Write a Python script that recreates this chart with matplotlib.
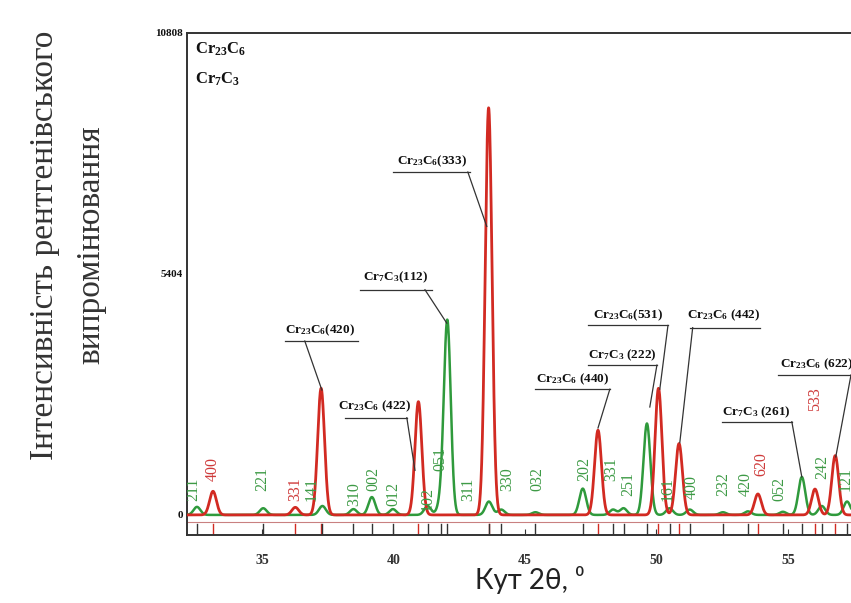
import numpy as np
import matplotlib
matplotlib.use("Agg")
import matplotlib.pyplot as plt

plt.rcParams.update({
    "mathtext.fontset": "custom",
    "mathtext.rm": "Liberation Serif:bold",
    "mathtext.it": "Liberation Serif:bold",
    "mathtext.bf": "Liberation Serif:bold",
    "mathtext.default": "rm",
})

# ---------------- data ----------------
red_hkl = ["400", "331", "420", "422", "333", "440", "531", "442", "620", "533", "622"]
red_pos = [33.14, 36.27, 37.25, 40.95, 43.62, 47.78, 50.08, 50.86, 53.86, 56.03, 56.80]
red_int = [530, 170, 2840, 2540, 9130, 1900, 2840, 1600, 470, 580, 1330]

green_hkl = ["211", "221", "141", "310", "002", "012", "102", "051", "112", "311", "330",
             "032", "202", "331", "251", "222", "161", "400", "232", "420", "052", "261",
             "242", "121"]
green_pos = [32.53, 35.05, 37.30, 38.48, 39.18, 39.98, 41.30, 41.80, 42.05, 43.63, 44.10,
             45.40, 47.20, 48.35, 48.75, 49.64, 50.50, 51.27, 52.53, 53.48, 54.81, 55.53,
             56.29, 57.25]
green_int = [180, 150, 200, 130, 400, 130, 200, 250, 4340, 300, 120,
             60, 590, 120, 150, 2050, 150, 120, 60, 80, 70, 850,
             200, 300]

y_ticks = [0, 5404, 10808]
x_ticks = [35, 40, 45, 50, 55]
phase_labels = ["Cr$_{23}$C$_6$", "Cr$_7$C$_3$"]

red_named = {"420": "Cr$_{23}$C$_6$(420)", "422": "Cr$_{23}$C$_6$ (422)",
             "333": "Cr$_{23}$C$_6$(333)", "440": "Cr$_{23}$C$_6$ (440)",
             "531": "Cr$_{23}$C$_6$(531)", "442": "Cr$_{23}$C$_6$ (442)",
             "622": "Cr$_{23}$C$_6$ (622)"}
green_named = {"112": "Cr$_7$C$_3$(112)", "222": "Cr$_7$C$_3$ (222)",
               "261": "Cr$_7$C$_3$ (261)"}

# ---------------- layout (positions only) ----------------
red_lab_xy = {"400": (33.14, 1030), "331": (36.25, 582), "620": (54.01, 1141),
              "533": (56.03, 2596)}
green_lab_xy = {"211": (32.38, 582), "221": (35.0, 806), "141": (36.90, 582),
                "310": (38.50, 470), "002": (39.22, 806), "012": (39.98, 470),
                "102": (41.31, 358), "051": (41.77, 1253), "311": (42.83, 582),
                "330": (44.32, 806), "032": (45.46, 806), "202": (47.24, 1030),
                "331": (48.27, 1030), "251": (48.92, 694), "161": (50.44, 582),
                "400": (51.35, 627), "232": (52.53, 694), "420": (53.40, 694),
                "052": (54.66, 582), "242": (56.29, 1074), "121": (57.20, 806)}
ann_layout = {
    ("r", "420"): (37.21, 4140, 35.87, 38.65, 3900, 36.63, 37.28, 2800),
    ("g", "112"): (40.10, 5320, 38.73, 41.46, 5050, 41.20, 42.03, 4300),
    ("r", "422"): (39.30, 2430, 38.16, 40.51, 2180, 40.51, 40.82, 1000),
    ("r", "333"): (41.46, 7920, 39.98, 42.91, 7690, 42.83, 43.55, 6470),
    ("r", "440"): (46.80, 3050, 45.38, 48.23, 2820, 48.23, 47.78, 1950),
    ("g", "222"): (48.70, 3580, 47.40, 50.02, 3360, 50.02, 49.75, 2420),
    ("r", "531"): (48.90, 4470, 47.40, 50.44, 4250, 50.44, 50.13, 2820),
    ("r", "442"): (52.55, 4470, 51.27, 53.94, 4200, 51.38, 50.89, 1620),
    ("g", "261"): (53.80, 2310, 52.49, 55.15, 2090, 55.15, 55.53, 850),
    ("r", "622"): (56.10, 3380, 54.62, 57.45, 3140, 57.40, 56.82, 1300),
}

RED = "#d22a22"
GREEN = "#2f9a3c"
RED_TXT = "#cf3b3b"
GREEN_TXT = "#3d9a45"
DARK = "#333333"
serif = "Liberation Serif"

x = np.linspace(32.0, 57.6, 4000)
sigma = 0.13


def profile(pos, inten):
    y = np.zeros_like(x)
    for p, h in zip(pos, inten):
        y += h * np.exp(-0.5 * ((x - p) / sigma) ** 2)
    return y


fig = plt.figure(figsize=(8.51, 6.03), dpi=100)
ax = fig.add_axes([0.2197, 0.1128, 0.7803, 0.8325])

ax.plot(x, profile(green_pos, green_int), color=GREEN, lw=1.8, zorder=3)
ax.plot(x, profile(red_pos, red_int), color=RED, lw=2.0, zorder=4)

# Bragg position markers strip
ax.axhline(-150, color="#c98080", lw=0.8, zorder=2)
for p in red_pos:
    ax.plot([p, p], [-200, -420], color=RED, lw=1.0, zorder=2)
for p in green_pos:
    ax.plot([p, p], [-200, -420], color=DARK, lw=1.0, zorder=2)

ax.set_xlim(32.15, 57.40)
ax.set_ylim(-450, 10808)

for hkl, (lx, ly) in red_lab_xy.items():
    ax.text(lx, ly, hkl, rotation=90, ha="center", va="center", color=RED_TXT,
            fontsize=11.5, family=serif, zorder=5)
for hkl, (lx, ly) in green_lab_xy.items():
    ax.text(lx, ly, hkl, rotation=90, ha="center", va="center", color=GREEN_TXT,
            fontsize=11.5, family=serif, zorder=5, clip_on=True)

for (ph, hkl), (tx, ty, ux0, ux1, uy, lx0, lx1, ly1) in ann_layout.items():
    label = red_named[hkl] if ph == "r" else green_named[hkl]
    ax.text(tx, ty, label, ha="center", va="center", fontsize=9.5, color="#111111",
            family=serif, fontweight="bold", zorder=6, clip_on=True)
    ax.plot([ux0, ux1], [uy, uy], color=DARK, lw=0.9, zorder=6, clip_on=True)
    ax.plot([lx0, lx1], [uy, ly1], color=DARK, lw=0.9, zorder=6, clip_on=True)

ax.text(0.012, 0.985, phase_labels[0], transform=ax.transAxes, ha="left", va="top",
        fontsize=12, color="#111111", family=serif, fontweight="bold")
ax.text(0.012, 0.925, phase_labels[1], transform=ax.transAxes, ha="left", va="top",
        fontsize=12, color="#111111", family=serif, fontweight="bold")

ax.set_xticks(x_ticks)
ax.set_yticks(y_ticks)
ax.set_xticklabels([str(t) for t in x_ticks], family=serif, fontweight="bold", fontsize=10)
ax.set_yticklabels([str(t) for t in y_ticks], family=serif, fontweight="bold", fontsize=8)
ax.tick_params(axis="x", direction="in", length=4, width=0.8, pad=14, colors=DARK)
ax.tick_params(axis="y", direction="in", length=0, pad=3, colors="#111111")
for s in ["left", "top", "bottom"]:
    ax.spines[s].set_color(DARK)
    ax.spines[s].set_linewidth(1.4)
ax.spines["right"].set_visible(False)

fig.text(0.080, 0.594, "Інтенсивність рентгенівського\nвипромінювання", rotation=90,
         ha="center", va="center", multialignment="center", fontsize=24,
         family=serif, color="#333333", linespacing=1.7)
fig.text(0.622, 0.038, "Кут 2θ, ⁰", ha="center", va="center", fontsize=20,
         family=["Lato", "Open Sans", "DejaVu Sans"], color="#222222")

fig.savefig("out.png", dpi=100)
